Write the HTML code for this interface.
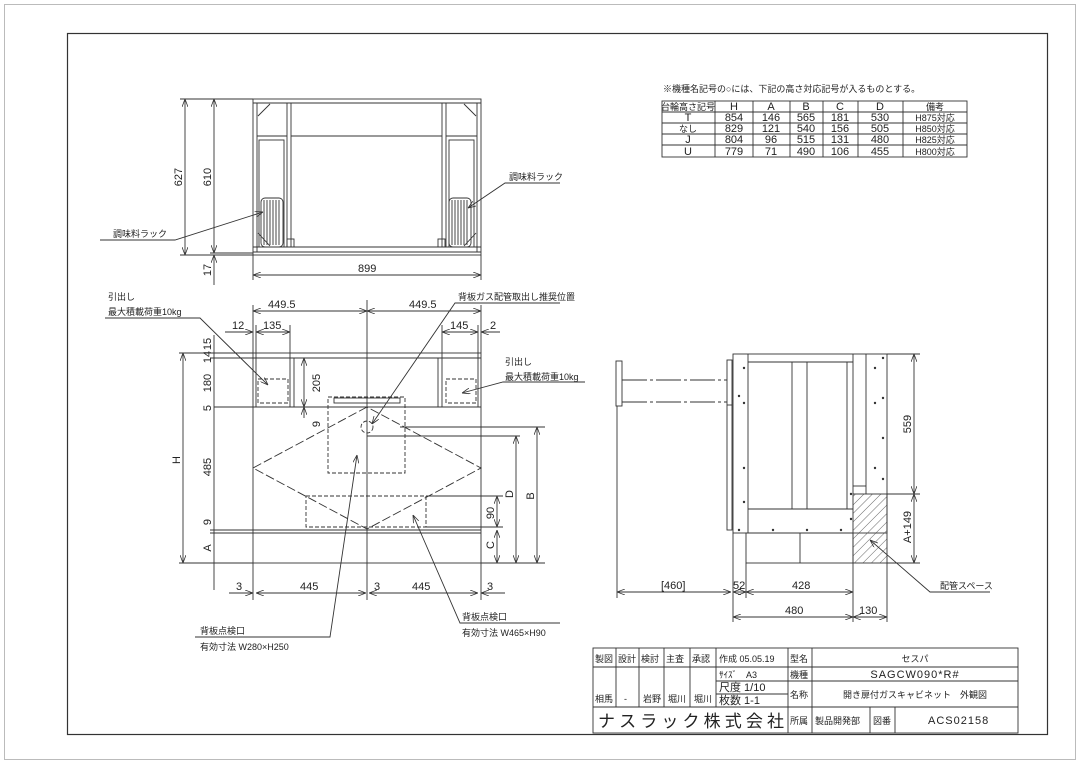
<!DOCTYPE html>
<html><head><meta charset="utf-8"><style>
html,body{margin:0;padding:0;background:#fff}
svg{display:block}
text{font-family:"Liberation Sans Narrow","Liberation Sans","Noto Sans CJK JP",sans-serif;fill:#222;font-size:11px}
.j{font-family:"Liberation Sans","Noto Sans CJK JP",sans-serif;font-size:9px}
</style></head><body>
<svg width="1080" height="764" viewBox="0 0 1080 764" xmlns="http://www.w3.org/2000/svg">
<defs>
<marker id="a" markerWidth="8" markerHeight="6" refX="8" refY="3" orient="auto-start-reverse" markerUnits="userSpaceOnUse"><path d="M0,0 L8,3 L0,6" fill="none" stroke="#333" stroke-width="0.8"/></marker>
<pattern id="h" width="6" height="6" patternUnits="userSpaceOnUse" patternTransform="rotate(45)"><line x1="0" y1="0" x2="0" y2="6" stroke="#444" stroke-width="0.8"/></pattern>
</defs>
<rect x="4.5" y="4.5" width="1071" height="755" fill="none" stroke="#bbb"/>
<rect x="67.5" y="33.5" width="980" height="701" fill="none" stroke="#333" stroke-width="1.2"/>
<g stroke="#333" stroke-width="0.9" fill="none">
<!-- TOP VIEW -->
<rect x="253" y="99" width="228" height="156"/>
<line x1="253" y1="103" x2="481" y2="103"/>
<line x1="253" y1="247" x2="481" y2="247"/><line x1="253" y1="252" x2="481" y2="252"/>
<line x1="257" y1="103" x2="257" y2="252"/><line x1="477" y1="103" x2="477" y2="252"/>
<line x1="287" y1="103" x2="287" y2="247"/><line x1="291" y1="103" x2="291" y2="247"/>
<line x1="442" y1="103" x2="442" y2="247"/><line x1="446" y1="103" x2="446" y2="247"/>
<line x1="291" y1="136" x2="442" y2="136"/>
<line x1="257" y1="136" x2="287" y2="136"/><line x1="446" y1="136" x2="477" y2="136"/>
<rect x="259" y="140" width="25" height="107"/><rect x="449" y="140" width="25" height="107"/>
<rect x="261" y="198" width="22" height="49" rx="4"/><rect x="449" y="198" width="22" height="49" rx="4"/>
<path d="M264,200v45M267,200v45M270,200v45M273,200v45M276,200v45M279,200v45M452,200v45M455,200v45M458,200v45M461,200v45M464,200v45M467,200v45"/>
<path d="M258,116 L270,104 M476,116 L464,104 M258,233 L270,246 M476,233 L464,246"/>
<rect x="287" y="239" width="7" height="8"/><rect x="438" y="239" width="7" height="8"/>
<line x1="180" y1="99" x2="253" y2="99"/><line x1="210" y1="253" x2="253" y2="253"/><line x1="180" y1="255" x2="253" y2="255"/>
<line x1="185" y1="99" x2="185" y2="255" marker-start="url(#a)" marker-end="url(#a)"/>
<line x1="214" y1="99" x2="214" y2="253" marker-start="url(#a)" marker-end="url(#a)"/>
<line x1="214" y1="255" x2="214" y2="285" marker-start="url(#a)"/>
<line x1="253" y1="255" x2="253" y2="280"/><line x1="481" y1="255" x2="481" y2="280"/>
<line x1="253" y1="275" x2="481" y2="275" marker-start="url(#a)" marker-end="url(#a)"/>
<!-- FRONT VIEW -->
<rect x="253" y="353" width="228" height="210"/>
<line x1="253" y1="358" x2="481" y2="358"/>
<line x1="214" y1="407" x2="481" y2="407"/>
<line x1="253" y1="530" x2="481" y2="530"/><line x1="253" y1="533" x2="481" y2="533"/>
<line x1="367" y1="300" x2="367" y2="600"/>
<rect x="256" y="358" width="34" height="49"/><rect x="442" y="358" width="36" height="49"/>
<line x1="294" y1="358" x2="294" y2="407"/><line x1="438" y1="358" x2="438" y2="407"/>
<g stroke-dasharray="4,2">
<rect x="258" y="379" width="30" height="24"/><rect x="446" y="379" width="30" height="24"/>
<path d="M367,407 L253,468 L367,529 L481,468 Z" stroke-dasharray="9,3"/>
<rect x="328" y="397" width="77" height="76"/>
<rect x="306" y="496" width="120" height="31"/>
<circle cx="367" cy="427" r="6"/>
</g>
<rect x="334" y="398" width="66" height="5"/>
<line x1="179" y1="353" x2="253" y2="353"/><line x1="179" y1="563" x2="253" y2="563"/>
<line x1="183" y1="353" x2="183" y2="563" marker-start="url(#a)" marker-end="url(#a)"/>
<line x1="214" y1="335" x2="214" y2="590"/>
<line x1="210" y1="358" x2="253" y2="358"/><line x1="210" y1="530" x2="253" y2="530"/><line x1="210" y1="533" x2="253" y2="533"/>
<line x1="253" y1="305" x2="253" y2="353"/><line x1="481" y1="305" x2="481" y2="353"/>
<line x1="253" y1="311" x2="367" y2="311" marker-start="url(#a)" marker-end="url(#a)"/>
<line x1="367" y1="311" x2="481" y2="311" marker-start="url(#a)" marker-end="url(#a)"/>
<line x1="225" y1="332" x2="253" y2="332" marker-end="url(#a)"/><line x1="256" y1="332" x2="290" y2="332" marker-start="url(#a)" marker-end="url(#a)"/>
<line x1="256" y1="325" x2="256" y2="358"/><line x1="290" y1="325" x2="290" y2="358"/>
<line x1="442" y1="332" x2="478" y2="332" marker-start="url(#a)" marker-end="url(#a)"/><line x1="481" y1="332" x2="500" y2="332" marker-start="url(#a)"/>
<line x1="442" y1="325" x2="442" y2="358"/><line x1="478" y1="325" x2="478" y2="358"/>
<line x1="304" y1="358" x2="304" y2="407" marker-start="url(#a)" marker-end="url(#a)"/>
<line x1="304" y1="407" x2="304" y2="418" marker-start="url(#a)"/>
<line x1="400" y1="427" x2="545" y2="427"/><line x1="367" y1="436" x2="520" y2="436"/>
<line x1="426" y1="496" x2="503" y2="496"/><line x1="426" y1="527" x2="503" y2="527"/>
<line x1="481" y1="563" x2="545" y2="563"/>
<line x1="537" y1="427" x2="537" y2="563" marker-start="url(#a)" marker-end="url(#a)"/>
<line x1="516" y1="436" x2="516" y2="563" marker-start="url(#a)" marker-end="url(#a)"/>
<line x1="497" y1="496" x2="497" y2="527" marker-start="url(#a)" marker-end="url(#a)"/>
<line x1="497" y1="530" x2="497" y2="563" marker-start="url(#a)" marker-end="url(#a)"/>
<line x1="253" y1="563" x2="253" y2="600"/><line x1="481" y1="563" x2="481" y2="600"/>
<line x1="229" y1="593" x2="253" y2="593" marker-end="url(#a)"/>
<line x1="256" y1="593" x2="366" y2="593" marker-start="url(#a)" marker-end="url(#a)"/>
<line x1="369" y1="593" x2="392" y2="593" marker-start="url(#a)"/>
<line x1="369" y1="593" x2="478" y2="593" marker-end="url(#a)"/>
<line x1="481" y1="593" x2="505" y2="593" marker-start="url(#a)"/>
<polyline points="100,240 175,240 263,212" marker-end="url(#a)"/>
<polyline points="560,183 505,183 468,208" marker-end="url(#a)"/>
<polyline points="105,318 200,318 268,385" marker-end="url(#a)"/>
<polyline points="585,382 503,382 462,393" marker-end="url(#a)"/>
<polyline points="560,303 455,303 372,424" marker-end="url(#a)"/>
<polyline points="195,637 330,637 357,455" marker-end="url(#a)"/>
<polyline points="560,623 460,623 413,515" marker-end="url(#a)"/>
<!-- SIDE VIEW -->
<rect x="733" y="354" width="154" height="179"/>
<line x1="748" y1="354" x2="748" y2="533"/><line x1="853" y1="354" x2="853" y2="494"/><line x1="866" y1="354" x2="866" y2="494"/>
<line x1="748" y1="362" x2="853" y2="362"/><line x1="748" y1="509" x2="853" y2="509"/>
<line x1="792" y1="362" x2="792" y2="509"/><line x1="807" y1="362" x2="807" y2="509"/><line x1="847" y1="362" x2="847" y2="509"/>
<line x1="853" y1="486" x2="866" y2="486"/>
<rect x="727" y="360" width="5" height="170"/><line x1="727" y1="405" x2="732" y2="405"/>
<rect x="746" y="533" width="107" height="30"/><line x1="800" y1="533" x2="800" y2="563"/>
<rect x="853" y="494" width="34" height="69" fill="url(#h)"/>
<rect x="616" y="361" width="6" height="45"/>
<line x1="622" y1="380" x2="727" y2="380" stroke-dasharray="25,3,3,3"/>
<line x1="622" y1="402" x2="727" y2="402" stroke-dasharray="25,3,3,3"/>
<line x1="617" y1="406" x2="617" y2="598"/>
<line x1="733" y1="533" x2="733" y2="622"/><line x1="746" y1="563" x2="746" y2="598"/>
<line x1="853" y1="563" x2="853" y2="622"/><line x1="887" y1="563" x2="887" y2="622"/>
<line x1="887" y1="354" x2="920" y2="354"/><line x1="887" y1="494" x2="920" y2="494"/><line x1="887" y1="563" x2="920" y2="563"/>
<line x1="914" y1="354" x2="914" y2="494" marker-start="url(#a)" marker-end="url(#a)"/>
<line x1="914" y1="494" x2="914" y2="563" marker-start="url(#a)" marker-end="url(#a)"/>
<line x1="617" y1="592" x2="731" y2="592" marker-start="url(#a)" marker-end="url(#a)"/>
<line x1="733" y1="592" x2="746" y2="592" marker-start="url(#a)" marker-end="url(#a)"/>
<line x1="746" y1="592" x2="853" y2="592" marker-start="url(#a)" marker-end="url(#a)"/>
<line x1="733" y1="617" x2="853" y2="617" marker-start="url(#a)" marker-end="url(#a)"/>
<line x1="853" y1="617" x2="887" y2="617" marker-start="url(#a)" marker-end="url(#a)"/>
<polyline points="990,592 930,592 870,540" marker-end="url(#a)"/>
</g>
<g fill="#333">
<circle cx="744" cy="368" r="1.2"/><circle cx="744" cy="403" r="1.2"/><circle cx="744" cy="468" r="1.2"/><circle cx="744" cy="502" r="1.2"/>
<circle cx="883" cy="358" r="1.2"/><circle cx="875" cy="368" r="1.2"/><circle cx="883" cy="398" r="1.2"/><circle cx="875" cy="403" r="1.2"/><circle cx="883" cy="438" r="1.2"/><circle cx="875" cy="468" r="1.2"/><circle cx="883" cy="479" r="1.2"/>
<circle cx="739" cy="396" r="1.2"/><circle cx="739" cy="530" r="1.2"/><circle cx="773" cy="530" r="1.2"/><circle cx="807" cy="530" r="1.2"/><circle cx="841" cy="530" r="1.2"/><circle cx="851" cy="494" r="1.2"/><circle cx="851" cy="519" r="1.2"/>
</g>
<!-- horizontal dim texts -->
<g>
<text x="358" y="272">899</text>
<text x="268" y="308">449.5</text><text x="409" y="308">449.5</text>
<text x="232" y="329">12</text><text x="263" y="329">135</text><text x="450" y="329">145</text><text x="490" y="329">2</text>
<text x="236" y="590">3</text><text x="300" y="590">445</text><text x="374" y="590">3</text><text x="412" y="590">445</text><text x="487" y="590">3</text>
<text x="661" y="589">[460]</text><text x="733" y="589">52</text><text x="792" y="589">428</text><text x="785" y="614">480</text><text x="859" y="614">130</text>
</g>
<!-- rotated dim texts: anchor middle at (x,y), baseline just left of line -->
<g text-anchor="middle">
<text x="182" y="177" transform="rotate(-90 182 177)">627</text>
<text x="211" y="177" transform="rotate(-90 211 177)">610</text>
<text x="211" y="270" transform="rotate(-90 211 270)">17</text>
<text x="211" y="344" transform="rotate(-90 211 344)">15</text>
<text x="211" y="357" transform="rotate(-90 211 357)">14</text>
<text x="211" y="383" transform="rotate(-90 211 383)">180</text>
<text x="211" y="408" transform="rotate(-90 211 408)">5</text>
<text x="211" y="467" transform="rotate(-90 211 467)">485</text>
<text x="211" y="522" transform="rotate(-90 211 522)">9</text>
<text x="211" y="548" transform="rotate(-90 211 548)">A</text>
<text x="180" y="460" transform="rotate(-90 180 460)">H</text>
<text x="320" y="383" transform="rotate(-90 320 383)">205</text>
<text x="320" y="424" transform="rotate(-90 320 424)">9</text>
<text x="513" y="494" transform="rotate(-90 513 494)">D</text>
<text x="534" y="496" transform="rotate(-90 534 496)">B</text>
<text x="494" y="545" transform="rotate(-90 494 545)">C</text>
<text x="494" y="513" transform="rotate(-90 494 513)">90</text>
<text x="911" y="424" transform="rotate(-90 911 424)">559</text>
<text x="911" y="527" transform="rotate(-90 911 527)">A+149</text>
</g>
<g>
<text class="j" x="113" y="237">調味料ラック</text>
<text class="j" x="509" y="180">調味料ラック</text>
<text class="j" x="108" y="300">引出し</text><text class="j" x="108" y="315">最大積載荷重10kg</text>
<text class="j" x="505" y="365">引出し</text><text class="j" x="505" y="380">最大積載荷重10kg</text>
<text class="j" x="458" y="300">背板ガス配管取出し推奨位置</text>
<text class="j" x="200" y="634">背板点検口</text><text class="j" x="200" y="650">有効寸法 W280×H250</text>
<text class="j" x="462" y="620">背板点検口</text><text class="j" x="462" y="636">有効寸法 W465×H90</text>
<text class="j" x="940" y="589">配管スペース</text>
<text class="j" x="663" y="92">※機種名記号の○には、下記の高さ対応記号が入るものとする。</text>
</g>
<!-- table -->
<g stroke="#333" stroke-width="0.9" fill="none">
<rect x="662" y="101" width="305" height="56"/>
<path d="M662,112H967M662,123H967M662,134H967M662,145H967"/>
<path d="M715,101V157M753,101V157M790,101V157M823,101V157M858,101V157M903,101V157"/>
</g>
<g text-anchor="middle">
<text class="j" x="688" y="110">台輪高さ記号</text>
<text x="734" y="110">H</text><text x="771" y="110">A</text><text x="806" y="110">B</text><text x="840" y="110">C</text><text x="880" y="110">D</text><text class="j" x="935" y="110">備考</text>
<text x="688" y="121">T</text><text x="734" y="121">854</text><text x="771" y="121">146</text><text x="806" y="121">565</text><text x="840" y="121">181</text><text x="880" y="121">530</text><text class="j" x="935" y="121">H875対応</text>
<text class="j" x="688" y="132">なし</text><text x="734" y="132">829</text><text x="771" y="132">121</text><text x="806" y="132">540</text><text x="840" y="132">156</text><text x="880" y="132">505</text><text class="j" x="935" y="132">H850対応</text>
<text x="688" y="143">J</text><text x="734" y="143">804</text><text x="771" y="143">96</text><text x="806" y="143">515</text><text x="840" y="143">131</text><text x="880" y="143">480</text><text class="j" x="935" y="143">H825対応</text>
<text x="688" y="155">U</text><text x="734" y="155">779</text><text x="771" y="155">71</text><text x="806" y="155">490</text><text x="840" y="155">106</text><text x="880" y="155">455</text><text class="j" x="935" y="155">H800対応</text>
</g>
<!-- title block -->
<g stroke="#333" stroke-width="0.9" fill="none">
<rect x="593" y="648" width="425" height="85"/>
<path d="M593,667H1018M716,681H788M716,694H788M593,707H1018M788,681H1018"/>
<path d="M616,648V707M639,648V707M664,648V707M690,648V707M716,648V707M788,648V733M812,648V733M870,707V733M895,707V733"/>
</g>
<g>
<text class="j" x="595" y="662">製図</text><text class="j" x="618" y="662">設計</text><text class="j" x="641" y="662">検討</text><text class="j" x="666" y="662">主査</text><text class="j" x="692" y="662">承認</text>
<text class="j" x="719" y="662">作成 05.05.19</text><text class="j" x="790" y="662">型名</text><text class="j" x="915" y="662" text-anchor="middle">セスパ</text>
<text class="j" x="719" y="678">ｻｲｽﾞ　A3</text><text class="j" x="790" y="678">機種</text><text class="j" x="915" y="678" text-anchor="middle" style="font-size:11px;letter-spacing:1px">SAGCW090*R#</text>
<text class="j" x="719" y="691" style="font-size:11px">尺度 1/10</text><text class="j" x="719" y="704" style="font-size:11px">枚数 1-1</text>
<text class="j" x="790" y="698">名称</text><text class="j" x="915" y="698" text-anchor="middle">開き扉付ガスキャビネット　外観図</text>
<text class="j" x="595" y="702">相馬</text><text class="j" x="624" y="702">-</text><text class="j" x="643" y="702">岩野</text><text class="j" x="668" y="702">堀川</text><text class="j" x="694" y="702">堀川</text>
<text class="j" x="598" y="727" style="font-size:17px" textLength="186" lengthAdjust="spacing">ナスラック株式会社</text>
<text class="j" x="790" y="724">所属</text><text class="j" x="815" y="724">製品開発部</text><text class="j" x="873" y="724">図番</text><text class="j" x="928" y="724" style="font-size:11px;letter-spacing:1px">ACS02158</text>
</g>
</svg>
</body></html>
